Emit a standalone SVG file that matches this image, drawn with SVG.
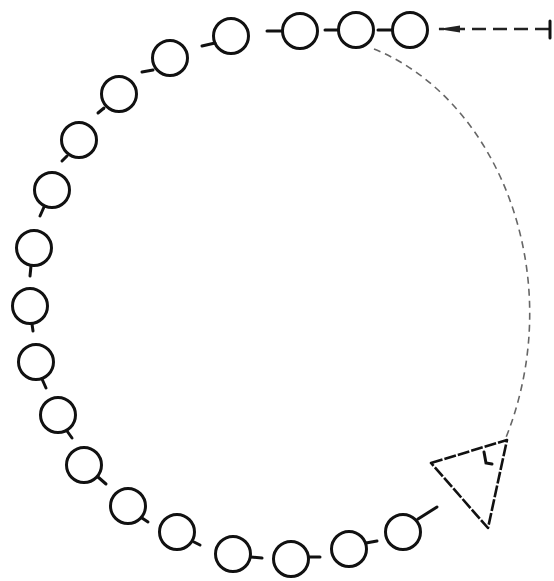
<svg xmlns="http://www.w3.org/2000/svg" width="554" height="581" viewBox="0 0 554 581">
<style>
.n{fill:none;stroke:#111;stroke-width:3}
.s{stroke:#111;stroke-width:3;fill:none;stroke-linecap:round}
.d{stroke:#222;stroke-width:2.4;fill:none;stroke-dasharray:14,7}
.a{stroke:#666;stroke-width:1.6;fill:none;stroke-dasharray:7,5}
.t{fill:none;stroke:#111;stroke-width:2.6;stroke-dasharray:12,2;stroke-linejoin:round}
</style>
<defs>
<marker id="ah" markerWidth="22" markerHeight="10" refX="21" refY="5" orient="auto" markerUnits="userSpaceOnUse">
<path d="M0,1.5 L22,5 L0,8.5 Z" fill="#222"/>
</marker>
</defs>
<rect width="554" height="581" fill="#fff"/>
<g id="connectors">
<path class="s" d="M392,30 L378,30"/>
<path class="s" d="M338,30 L325,30"/>
<path class="s" d="M282,31 L267,31"/>
<path class="s" d="M215,43 L202,46"/>
<path class="s" d="M153,70 L142,72"/>
<path class="s" d="M104,108 L98,113"/>
<path class="s" d="M67,156 L62,161"/>
<path class="s" d="M44,207 L40,216"/>
<path class="s" d="M31,266 L30,276"/>
<path class="s" d="M32,324 L33,331"/>
<path class="s" d="M42,379 L46,388"/>
<path class="s" d="M67,431 L72,438"/>
<path class="s" d="M98,477 L106,484"/>
<path class="s" d="M142,518 L148,522"/>
<path class="s" d="M194,542 L200,545"/>
<path class="s" d="M251,557 L262,558"/>
<path class="s" d="M309,557 L320,557"/>
<path class="s" d="M366,543 L377,541"/>
<path class="s" d="M418,519 L437,507"/>
<path class="d" d="M549,29 L439,29" marker-end="url(#ah)"/>
<path class="s" d="M550,21 L550,38"/>
<path class="a" d="M374,49 C500,100 570,280 505,440"/>
</g>
<g id="triangle">
<path class="t" d="M431,463 L507,440 L488,528 Z"/>
<path class="s" d="M484,452 L486,463 L492,464"/>
</g>
<g id="n1"><circle class="n" cx="410" cy="30" r="17.5"/></g>
<g id="n2"><circle class="n" cx="356" cy="30" r="17.5"/></g>
<g id="n3"><circle class="n" cx="300" cy="31" r="17.5"/></g>
<g id="n4"><circle class="n" cx="231" cy="36" r="17.5"/></g>
<g id="n5"><circle class="n" cx="170" cy="58" r="17.5"/></g>
<g id="n6"><circle class="n" cx="119" cy="94" r="17.5"/></g>
<g id="n7"><circle class="n" cx="79" cy="140" r="17.5"/></g>
<g id="n8"><circle class="n" cx="52" cy="190" r="17.5"/></g>
<g id="n9"><circle class="n" cx="34" cy="248" r="17.5"/></g>
<g id="n10"><circle class="n" cx="30" cy="306" r="17.5"/></g>
<g id="n11"><circle class="n" cx="36" cy="362" r="17.5"/></g>
<g id="n12"><circle class="n" cx="58" cy="415" r="17.5"/></g>
<g id="n13"><circle class="n" cx="84" cy="465" r="17.5"/></g>
<g id="n14"><circle class="n" cx="128" cy="506" r="17.5"/></g>
<g id="n15"><circle class="n" cx="177" cy="532" r="17.5"/></g>
<g id="n16"><circle class="n" cx="233" cy="554" r="17.5"/></g>
<g id="n17"><circle class="n" cx="291" cy="559" r="17.5"/></g>
<g id="n18"><circle class="n" cx="349" cy="549" r="17.5"/></g>
<g id="n19"><circle class="n" cx="403" cy="532" r="17.5"/></g>
</svg>
